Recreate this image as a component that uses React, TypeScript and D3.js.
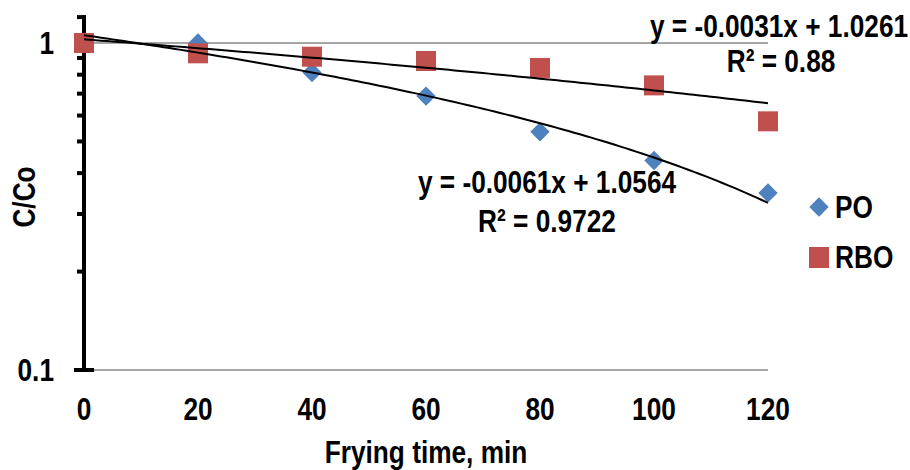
import React from "react";
import * as d3 from "d3";

const xValues = [0, 20, 40, 60, 80, 100, 120];
const poValues = [1.0, 1.0, 0.812, 0.688, 0.535, 0.437, 0.348];
const rboValues = [1.0, 0.93, 0.908, 0.881, 0.839, 0.742, 0.576];
const seriesNames = ["PO", "RBO"];
const trendSlopes = [-0.0061, -0.0031];
const trendIntercepts = [1.0564, 1.0261];
const trendEquations = ["y = -0.0061x + 1.0564", "y = -0.0031x + 1.0261"];
const trendR2 = ["R² = 0.9722", "R² = 0.88"];
const xTicks = [0, 20, 40, 60, 80, 100, 120];
const yMajorTicks = [0.1, 1];
const yMinorTicks = [0.2, 0.3, 0.4, 0.5, 0.6, 0.7, 0.8, 0.9, 1.2];

const W = 910;
const H = 470;
const FONT = "'Liberation Sans', Arial, sans-serif";
const BLUE = "#4F81BD";
const RED = "#C0504D";
const NARROW = 0.82;

function NText(props: { x: number; y: number; anchor?: string; rotate?: number; children: React.ReactNode }) {
  const { x, y, anchor = "start", rotate = 0, children } = props;
  return (
    <text
      transform={`translate(${x},${y}) rotate(${rotate}) scale(${NARROW},1)`}
      textAnchor={anchor}
      fontSize={32}
    >
      {children}
    </text>
  );
}

export default function App() {
  const x = d3.scaleLinear().domain([0, 120]).range([84, 768]);
  const y = d3.scaleLog().domain([0.1, 1]).range([370, 43]);

  const trendLine = (i: number) => {
    const pts = d3.range(0, 121, 1).map((t) => [t, trendSlopes[i] * t + trendIntercepts[i]] as [number, number]);
    return d3
      .line<[number, number]>()
      .x((d) => x(d[0]))
      .y((d) => y(d[1]))(pts) as string;
  };

  const diamond = d3.symbol().type(d3.symbolDiamond2).size(240)() as string;

  return (
    <svg
      width={W}
      height={H}
      style={{ position: "absolute", left: 0, top: 0, background: "#fff" }}
      fontFamily={FONT}
      fontWeight="bold"
    >
      <rect x={0} y={0} width={W} height={H} fill="#fff" />
      {/* gridlines */}
      {yMajorTicks.map((t) => (
        <line key={"g" + t} x1={x(0)} x2={x(120)} y1={y(t)} y2={y(t)} stroke="#a6a6a6" strokeWidth={2} />
      ))}
      {/* y axis */}
      <line x1={84} x2={84} y1={y(1.2) - 2} y2={y(0.1) + 2} stroke="#000" strokeWidth={4} />
      {yMinorTicks.map((t) => (
        <line key={"m" + t} x1={77} x2={84} y1={y(t)} y2={y(t)} stroke="#000" strokeWidth={4} />
      ))}
      {yMajorTicks.map((t) => (
        <line key={"M" + t} x1={74} x2={94} y1={y(t)} y2={y(t)} stroke="#000" strokeWidth={4} />
      ))}
      {yMajorTicks.map((t) => (
        <NText key={"yl" + t} x={54} y={y(t) + 11} anchor="end">
          {d3.format("")(t)}
        </NText>
      ))}
      {xTicks.map((t) => (
        <NText key={"xl" + t} x={x(t)} y={420} anchor="middle">
          {t}
        </NText>
      ))}
      <NText x={426} y={463} anchor="middle">
        Frying time, min
      </NText>
      <NText x={35} y={197} anchor="middle" rotate={-90}>
        C/Co
      </NText>

      {/* PO markers */}
      {xValues.map((v, i) => (
        <path key={"po" + i} d={diamond} transform={`translate(${x(v)},${y(poValues[i])})`} fill={BLUE} />
      ))}
      {/* RBO markers */}
      {xValues.map((v, i) => (
        <rect key={"rbo" + i} x={x(v) - 10} y={y(rboValues[i]) - 10} width={20} height={20} fill={RED} />
      ))}

      {/* trendlines */}
      {[0, 1].map((i) => (
        <path key={"t" + i} d={trendLine(i)} fill="none" stroke="#000" strokeWidth={2} />
      ))}

      {/* equations */}
      <NText x={547} y={193} anchor="middle">{trendEquations[0]}</NText>
      <NText x={547} y={232} anchor="middle">{trendR2[0]}</NText>
      <NText x={779} y={37} anchor="middle">{trendEquations[1]}</NText>
      <NText x={781} y={72} anchor="middle">{trendR2[1]}</NText>

      {/* legend */}
      <path d={diamond} transform="translate(819,207)" fill={BLUE} />
      <NText x={835} y={218}>{seriesNames[0]}</NText>
      <rect x={809} y={247} width={20} height={21} fill={RED} />
      <NText x={835} y={268}>{seriesNames[1]}</NText>
    </svg>
  );
}
